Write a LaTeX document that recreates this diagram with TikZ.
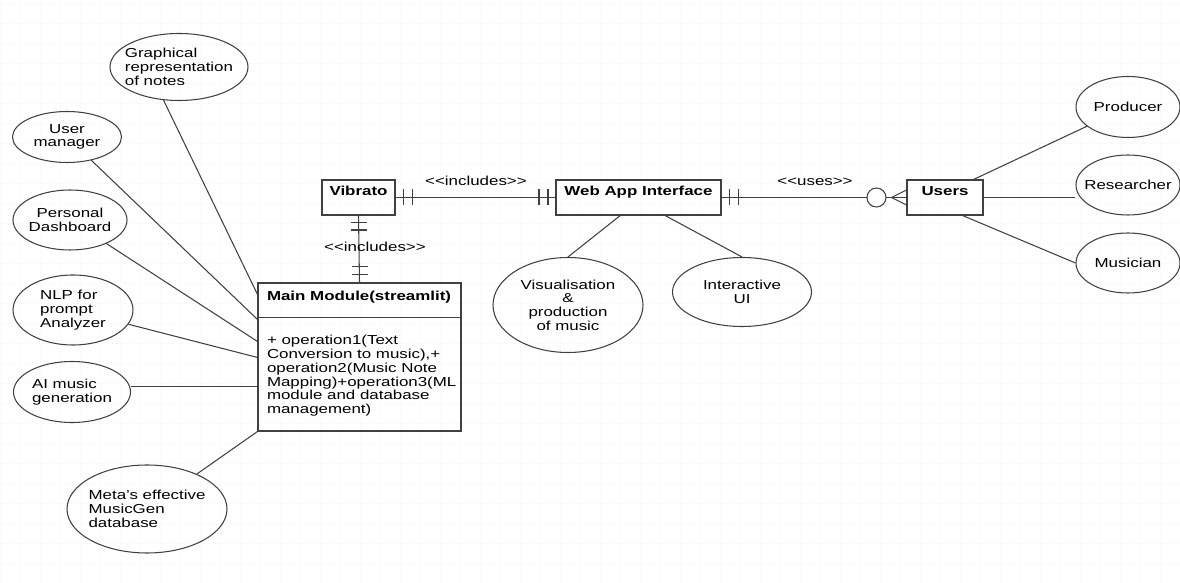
\documentclass[tikz,border=0pt]{standalone}
\usepackage{fontspec}
\setmainfont{Liberation Sans}[FakeStretch=1.3]
\usepackage{tikz}
\usetikzlibrary{calc}
\usetikzlibrary{positioning, shapes.geometric}

\newcommand{\umlsize}{\fontsize{7.4}{7.8}\selectfont}
\newcommand{\stereo}[1]{\textless\kern0pt\textless\kern0pt#1\kern0pt\textgreater\kern0pt\textgreater}

\tikzset{
  usecase/.style={draw=black!75, ellipse, inner xsep=-0.15cm, inner ysep=0pt, font=\umlsize},
  entity/.style={draw=black!75, rectangle, inner sep=0pt, minimum height=0.7cm,
    text height=0.24cm, text depth=0.3cm, font=\umlsize\bfseries},
  rel/.style={font=\umlsize, inner sep=1pt},
  conn/.style={draw=black!75, line width=0.6pt},
}

\begin{document}
\begin{tikzpicture}[line width=0.6pt]
\useasboundingbox (0,0) rectangle (23.6,11.66);
\draw[black!2, step=0.4, line width=0.4pt] (0,0) grid (23.6,11.66);

\node[entity, minimum width=1.46cm] (vibrato) at (7.17,7.71) {Vibrato};
\node[entity, minimum width=3.30cm] (webapp) at (12.77,7.71) {Web App Interface};
\node[entity, minimum width=1.52cm] (users) at (18.90,7.71) {Users};

\node[draw=black!75, minimum width=4.06cm, minimum height=2.96cm, inner sep=0pt] (main) at (7.19,4.52) {};
\draw[conn] ($(main.north west)+(0,-0.70)$) -- ($(main.north east)+(0,-0.70)$);
\node[anchor=west, font=\umlsize\bfseries, inner sep=0pt] (maintitle) at ($(main.north west)+(0.18,-0.30)$) {Main Module(streamlit)};
\node[anchor=north west, align=left, font=\umlsize, inner sep=0pt] (mainops) at ($(main.north west)+(0.18,-1.05)$)
  {+ operation1(Text\\Conversion to music),+\\operation2(Music Note\\Mapping)+operation3(ML\\module and database\\management)};

\node[usecase, minimum width=2.76cm, minimum height=1.34cm, align=left] (graphical) at (3.58,10.32) {Graphical\\representation\\of notes};
\node[usecase, minimum width=2.18cm, minimum height=1.02cm, align=center] (usermgr) at (1.34,8.92) {User\\manager};
\node[usecase, minimum width=2.28cm, minimum height=1.20cm, align=center] (dashboard) at (1.40,7.26) {Personal\\Dashboard};
\node[usecase, minimum width=2.40cm, minimum height=1.40cm, align=left] (nlp) at (1.46,5.46) {NLP for\\prompt\\Analyzer};
\node[usecase, minimum width=2.34cm, minimum height=1.22cm, align=left] (aimusic) at (1.44,3.82) {AI music\\generation};
\node[usecase, minimum width=3.20cm, minimum height=1.76cm, align=left] (musicgen) at (2.94,1.48) {Meta's effective\\MusicGen\\database};

\node[usecase, minimum width=3.00cm, minimum height=1.90cm, align=center] (visual) at (11.36,5.56) {Visualisation\\\&\\production\\of music};
\node[usecase, minimum width=2.78cm, minimum height=1.38cm, align=center] (interactive) at (14.84,5.82) {Interactive\\UI};

\node[usecase, minimum width=2.08cm, minimum height=1.22cm] (producer) at (22.56,9.52) {Producer};
\node[usecase, minimum width=2.08cm, minimum height=1.20cm] (researcher) at (22.56,7.96) {Researcher};
\node[usecase, minimum width=2.08cm, minimum height=1.20cm] (musician) at (22.56,6.40) {Musician};

% relations between the blocks
\draw[conn] (vibrato.east) -- (webapp.west);
\draw[conn] (vibrato.south) -- (main.north);
\draw[conn] (webapp.east) -- (users.west);
\foreach \d in {0.15,0.33} {
  \draw[conn] ($(vibrato.east)+(\d,0.16)$) -- +(0,-0.32);
  \draw[conn] ($(webapp.west)+(-\d,0.16)$) -- +(0,-0.32);
  \draw[conn] ($(webapp.east)+(\d,0.16)$) -- +(0,-0.32);
}
\foreach \d in {0.14,0.29} {
  \draw[conn] ($(vibrato.south)+(-0.16,-\d)$) -- +(0.32,0);
  \draw[conn] ($(main.north)+(-0.16,\d+0.02)$) -- +(0.32,0);
}
\coordinate (crow) at ($(users.west)+(-0.30,0)$);
\draw[conn] (crow) -- ($(users.west)+(0,0.15)$);
\draw[conn] (crow) -- ($(users.west)+(0,-0.15)$);
\node[draw=black!75, circle, fill=white, minimum size=0.38cm, inner sep=0pt] (zero) at ($(users.west)+(-0.60,0)$) {};

\node[rel] (inc1) at (9.52,8.04) {\stereo{includes}};
\node[rel] (inc2) at (7.50,6.72) {\stereo{includes}};
\node[rel] (uses) at (16.30,8.02) {\stereo{uses}};

\coordinate (m1) at ($(main.north west)+(0,-0.24)$);
\coordinate (m2) at ($(main.north west)+(0,-0.74)$);
\coordinate (m3) at ($(main.north west)+(0,-1.18)$);
\coordinate (m4) at ($(main.north west)+(0,-1.50)$);
\coordinate (m5) at ($(main.north west)+(0,-2.08)$);
\draw[conn] (graphical.-115) -- (m1);
\draw[conn] (usermgr) -- (m2);
\draw[conn] (dashboard) -- (m3);
\draw[conn] (nlp) -- (m4);
\draw[conn] (aimusic.east |- m5) -- (m5);
\draw[conn] (musicgen) -- (main.south west);

\draw[conn] ($(webapp.south west)!0.39!(webapp.south east)$) -- (visual.north);
\draw[conn] ($(webapp.south west)!0.66!(webapp.south east)$) -- (interactive.north);

\draw[conn] ([xshift=-0.2cm]users.north east) -- (producer);
\draw[conn] (users.east) -- (users.east -| researcher.west);
\draw[conn] ([xshift=-0.42cm]users.south east) -- (musician.west);
\end{tikzpicture}
\end{document}
